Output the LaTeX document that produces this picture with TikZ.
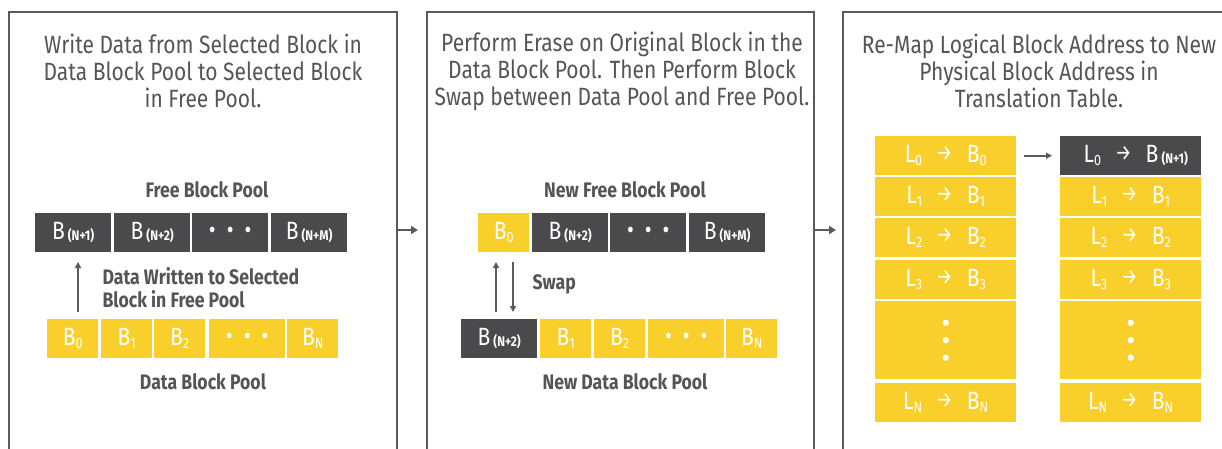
\documentclass[tikz,border=0pt]{standalone}
\usepackage{fontspec}
\setmainfont{Fira Sans}[FakeStretch=0.84]
\usetikzlibrary{arrows.meta,calc}
\definecolor{dgray}{HTML}{4A4A4C}
\definecolor{ylw}{HTML}{F9D02B}
\definecolor{tgray}{HTML}{555555}
\definecolor{bgray}{HTML}{5A5A5A}
\tikzset{
  panel/.style={draw=bgray, line width=2pt},
  dbox/.style={fill=dgray, text=white, minimum height=39pt, inner sep=0pt, anchor=north west, font=\fontsize{25}{25}\selectfont},
  ybox/.style={fill=ylw, text=white, minimum height=39pt, inner sep=0pt, anchor=north west, font=\fontsize{25}{25}\selectfont},
  wide/.style={minimum width=76pt},
  narrow/.style={minimum width=51pt},
  tbl/.style={fill=ylw, text=white, minimum width=141pt, minimum height=39pt, inner sep=0pt, anchor=north west, font=\fontsize{25}{25}\selectfont},
  title/.style={text=tgray, align=center, font=\fontsize{25}{27}\selectfont},
  lbl/.style={text=tgray, font=\bfseries\fontsize{21}{23}\selectfont},
  parr/.style={draw=bgray, line width=2pt, -{Triangle[length=7pt,width=8pt]}},
  varr/.style={draw=bgray, line width=1.5pt, -{Triangle[length=6pt,width=6pt]}},
}
\newcommand{\sbs}[1]{\raisebox{-3pt}{\fontsize{15}{15}\selectfont #1}}
\newcommand{\sbb}[1]{\hspace{3pt}\raisebox{-1pt}{\bfseries\fontsize{14}{14}\selectfont #1}}
\newcommand{\dts}{\textbullet\hspace{11pt}\textbullet\hspace{11pt}\textbullet}
\newcommand{\ar}{\hspace{14pt}\raisebox{2pt}{\fontsize{22}{22}\selectfont →}\hspace{14pt}}
\begin{document}
\begin{tikzpicture}[x=1pt,y=-1pt]
\useasboundingbox (0,0) rectangle (1222,449);
% panels
\draw[panel] (9,449) -- (9,12) -- (397,12) -- (397,449);
\draw[panel] (427,449) -- (427,12) -- (814,12) -- (814,449);
\draw[panel] (843,449) -- (843,12) -- (1240,12);
\coordinate (a1s) at (397,230); \coordinate (a1e) at (418,230);
\coordinate (a2s) at (814,230); \coordinate (a2e) at (836,230);
\draw[parr] (a1s) -- (a1e);
\draw[parr] (a2s) -- (a2e);
% titles
\node[title] (t1) at (203,71) {Write Data from Selected Block in\\Data Block Pool to Selected Block\\in Free Pool.};
\node[title] (t2) at (622,71) {Perform Erase on Original Block in the\\Data Block Pool. Then Perform Block\\Swap between Data Pool and Free Pool.};
\node[title] (t3) at (1039,71) {Re-Map Logical Block Address to New\\Physical Block Address in\\Translation Table.};
% panel 1
\node[lbl] (l1) at (207,190) {Free Block Pool};
\node[dbox,wide] (f1) at (35,213) {B\sbb{(N+1)}};
\node[dbox,wide] (f2) at (114,213) {B\sbb{(N+2)}};
\node[dbox,wide] (f3) at (192,213) {\dts};
\node[dbox,wide] (f4) at (271,213) {B\sbb{(N+M)}};
\node[ybox,narrow] (d0) at (47,319) {B\sbs{0}};
\node[ybox,narrow] (d1) at (101,319) {B\sbs{1}};
\node[ybox,narrow] (d2) at (154,319) {B\sbs{2}};
\node[ybox,wide] (d3) at (209,319) {\dts};
\node[ybox,narrow] (d4) at (287,319) {B\sbs{N}};
\node[lbl] (l2) at (203,382) {Data Block Pool};
\coordinate (u1s) at (78,312); \coordinate (u1e) at (78,262);
\draw[varr] (u1s) -- (u1e);
\node[lbl, anchor=west, align=left, font=\bfseries\fontsize{21}{23}\selectfont] (w1) at (99,288) {Data Written to Selected\\Block in Free Pool};
% panel 2
\node[lbl] (l3) at (625,190) {New Free Block Pool};
\node[ybox,narrow] (g1) at (478,213) {B\sbs{0}};
\node[dbox,wide] (g2) at (532,213) {B\sbb{(N+2)}};
\node[dbox,wide] (g3) at (610,213) {\dts};
\node[dbox,wide] (g4) at (689,213) {B\sbb{(N+M)}};
\node[dbox,wide] (h0) at (461,319) {B\sbb{(N+2)}};
\node[ybox,narrow] (h1) at (540,319) {B\sbs{1}};
\node[ybox,narrow] (h2) at (594,319) {B\sbs{2}};
\node[ybox,wide] (h3) at (648,319) {\dts};
\node[ybox,narrow] (h4) at (726,319) {B\sbs{N}};
\node[lbl] (l4) at (625,382) {New Data Block Pool};
\coordinate (s1a) at (496,312); \coordinate (s1b) at (496,262);
\coordinate (s2a) at (513,262); \coordinate (s2b) at (513,312);
\draw[varr] (s1a) -- (s1b);
\draw[varr] (s2a) -- (s2b);
\node[lbl, anchor=west] (sw) at (529,284) {Swap};
% panel 3
\node[tbl] (a0) at (875,136) {L\sbs{0}\ar B\sbs{0}};
\node[tbl] (a1) at (875,177) {L\sbs{1}\ar B\sbs{1}};
\node[tbl] (a2) at (875,218) {L\sbs{2}\ar B\sbs{2}};
\node[tbl] (a3) at (875,260) {L\sbs{3}\ar B\sbs{3}};
\node[tbl, minimum height=78pt] (a4) at (875,301) {};
\node[tbl] (a5) at (875,383) {L\sbs{N}\ar B\sbs{N}};
\node[tbl, fill=dgray] (b0) at (1060,136) {\hspace{10pt}L\sbs{0}\ar B\sbb{(N+1)}};
\node[tbl] (b1) at (1060,177) {L\sbs{1}\ar B\sbs{1}};
\node[tbl] (b2) at (1060,218) {L\sbs{2}\ar B\sbs{2}};
\node[tbl] (b3) at (1060,260) {L\sbs{3}\ar B\sbs{3}};
\node[tbl, minimum height=78pt] (b4) at (1060,301) {};
\node[tbl] (b5) at (1060,383) {L\sbs{N}\ar B\sbs{N}};
\foreach \n in {a4,b4} {
  \fill[white] ($(\n.center)+(0,-17.5)$) circle (3.2pt) (\n.center) circle (3.2pt) ($(\n.center)+(0,17.5)$) circle (3.2pt);
}
\draw[varr, line width=2pt, shorten <=8pt, shorten >=8pt] (a0.east) -- (b0.west);
\end{tikzpicture}
\end{document}
